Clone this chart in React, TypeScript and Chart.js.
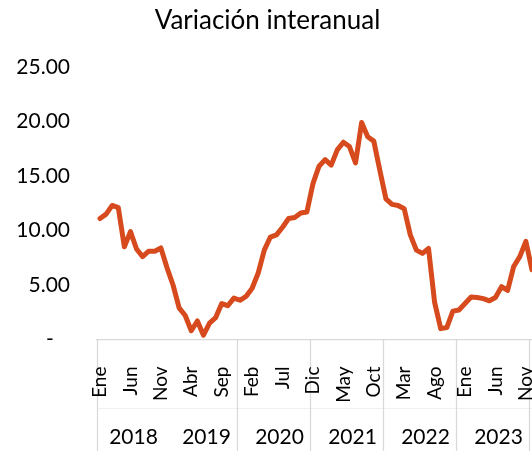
import React, { useEffect, useRef } from 'react';
import { Chart, registerables } from 'chart.js';

Chart.register(...registerables);

const monthNames = ['Ene', 'Feb', 'Mar', 'Abr', 'May', 'Jun', 'Jul', 'Ago', 'Sep', 'Oct', 'Nov', 'Dic'];
const yearLabels = ['2018', '2019', '2020', '2021', '2022', '2023'];
// Monthly year-over-year variation, Ene 2018 .. Dic 2023 (as far as visible)
const variacion = [
  11.1, 11.5, 12.3, 12.1, 8.5, 9.9, 8.3, 7.6, 8.1, 8.1, 8.4, 6.6,
  5.0, 2.9, 2.2, 0.8, 1.7, 0.4, 1.5, 2.0, 3.3, 3.1, 3.8, 3.6,
  3.95, 4.7, 6.1, 8.2, 9.4, 9.6, 10.3, 11.1, 11.2, 11.6, 11.7, 14.3,
  15.9, 16.5, 16.0, 17.4, 18.1, 17.7, 16.2, 19.9, 18.6, 18.2, 15.5, 12.9,
  12.4, 12.3, 12.0, 9.6, 8.2, 7.9, 8.35, 3.4, 1.0, 1.1, 2.6, 2.7,
  3.3, 3.9, 3.85, 3.75, 3.55, 3.85, 4.85, 4.5, 6.7, 7.6, 9.0, 6.4,
];
const categories = variacion.map((_, i) => monthNames[i % 12]);
const yTicks = [0, 5, 10, 15, 20, 25];

// group layout on the category axis (in category units)
const groupBreaks = [-0.5, 22.5, 34.5, 46.5, 58.5, 70.5];
const yearCenters = [5.5, 17.5, 29.5, 41.5, 53.5, 65.5];

const FONT = 'Lato';
const LINE_COLOR = '#D64A1D';
const AXIS_COLOR = '#d9d9d9';

const pixelFor = (chart: any) => {
  const x = chart.scales.x;
  const p0 = x.getPixelForValue(0);
  const step = x.getPixelForValue(1) - p0;
  return (i: number) => p0 + i * step;
};

const yearAxisPlugin = {
  id: 'yearAxis',
  beforeDraw(chart: any) {
    const { ctx, chartArea } = chart;
    const px = pixelFor(chart);
    const h = chart.height;
    ctx.save();
    // faint divider between month row and year row
    ctx.strokeStyle = '#f0f0f0';
    ctx.lineWidth = 1;
    ctx.beginPath();
    ctx.moveTo(px(-0.5), 408.5);
    ctx.lineTo(chart.width, 408.5);
    ctx.stroke();
    // group separators
    ctx.strokeStyle = AXIS_COLOR;
    ctx.lineWidth = 1.3;
    groupBreaks.forEach((b) => {
      const xx = Math.round(px(b)) + 0.5;
      ctx.beginPath();
      ctx.moveTo(xx, chartArea.bottom);
      ctx.lineTo(xx, h);
      ctx.stroke();
    });
    ctx.restore();
  },
  afterDraw(chart: any) {
    const { ctx } = chart;
    const px = pixelFor(chart);
    ctx.save();
    ctx.fillStyle = '#000';
    ctx.font = `21px ${FONT}`;
    ctx.textAlign = 'center';
    ctx.textBaseline = 'middle';
    yearLabels.forEach((y, k) => {
      ctx.fillText(y, px(yearCenters[k]), 437);
    });
    ctx.restore();
  },
};

export default function App() {
  const ref = useRef<HTMLCanvasElement>(null);

  useEffect(() => {
    if (!ref.current) return;
    const chart = new Chart(ref.current, {
      type: 'line',
      data: {
        labels: categories,
        datasets: [
          {
            data: variacion,
            borderColor: LINE_COLOR,
            borderWidth: 5,
            pointRadius: 0,
            tension: 0,
            borderCapStyle: 'round',
            borderJoinStyle: 'round',
            fill: false,
          },
        ],
      },
      options: {
        responsive: false,
        animation: false,
        layout: { padding: 0 },
        plugins: {
          legend: { display: false },
          tooltip: { enabled: false },
          title: {
            display: true,
            text: 'Variación interanual',
            color: '#000',
            font: { family: FONT, size: 26, weight: 'normal' },
            padding: { top: 5, bottom: 30.8 },
          },
        },
        scales: {
          x: {
            type: 'category',
            offset: true,
            grid: { display: false, drawTicks: false },
            border: { display: true, color: AXIS_COLOR, width: 1.3 },
            ticks: {
              autoSkip: false,
              maxRotation: 90,
              minRotation: 90,
              padding: 27,
              color: '#000',
              font: { family: FONT, size: 19 },
              callback: (_v: any, i: number) => (i % 5 === 0 ? categories[i] : ''),
            },
            afterFit: (s: any) => {
              s.height = 111.5;
              s.paddingLeft = 0;
              s.paddingRight = 0;
            },
          },
          y: {
            min: 0,
            max: 25,
            afterBuildTicks: (s: any) => {
              s.ticks = yTicks.map((v) => ({ value: v }));
            },
            grid: { display: false, drawTicks: false },
            border: { display: false },
            ticks: {
              padding: 27,
              color: '#000',
              font: { family: FONT, size: 21 },
              callback: (v: any) => (Number(v) === 0 ? '-   ' : Number(v).toFixed(2)),
            },
            afterFit: (s: any) => {
              s.width = 97;
              s.paddingTop = 0;
              s.paddingBottom = 0;
            },
          },
        },
      },
      plugins: [yearAxisPlugin],
    });
    return () => chart.destroy();
  }, []);

  return (
    <div
      style={{
        position: 'fixed',
        left: 0,
        top: 0,
        width: 532,
        height: 451,
        overflow: 'hidden',
        background: '#fff',
      }}
    >
      <canvas ref={ref} width={535} height={451} style={{ display: 'block' }} />
    </div>
  );
}
